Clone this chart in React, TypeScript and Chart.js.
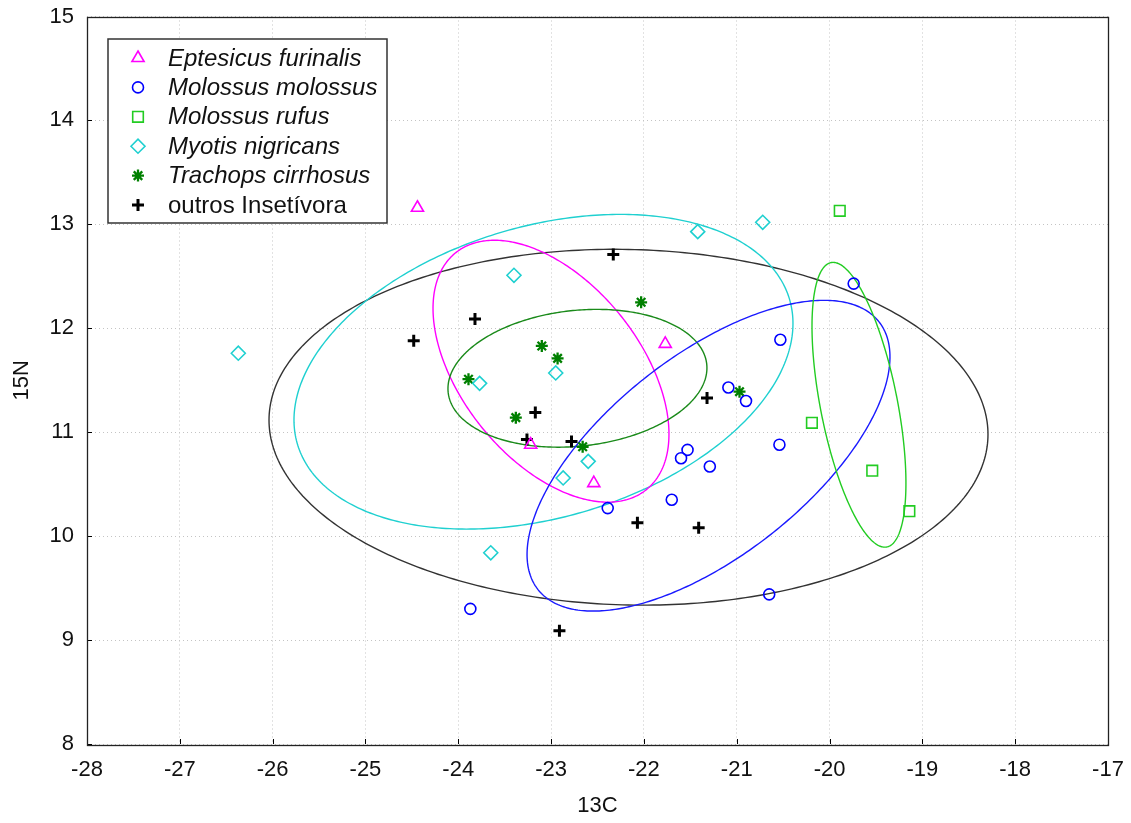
import React, { useEffect, useRef } from 'react';
import { Chart, registerables } from 'chart.js';
import { drawPoint } from 'chart.js/helpers';

Chart.register(...registerables);

// ---------- data ----------
const xTicks = [-28, -27, -26, -25, -24, -23, -22, -21, -20, -19, -18, -17];
const yTicks = [8, 9, 10, 11, 12, 13, 14, 15];

const seriesNames = [
  'Eptesicus furinalis',
  'Molossus molossus',
  'Molossus rufus',
  'Myotis nigricans',
  'Trachops cirrhosus',
  'outros Insetívora',
];

const eptesicusX = [-24.44, -21.77, -23.22, -22.54];
const eptesicusY = [13.16, 11.85, 10.88, 10.51];

const molossusX = [-23.87, -22.39, -21.70, -21.60, -21.53, -21.29, -20.54, -20.65, -21.09, -20.90, -20.53, -19.74];
const molossusY = [9.30, 10.27, 10.35, 10.75, 10.83, 10.67, 10.88, 9.44, 11.43, 11.30, 11.89, 12.43];

const rufusX = [-19.89, -20.19, -19.54, -19.14];
const rufusY = [13.13, 11.09, 10.63, 10.24];

const myotisX = [-26.37, -23.40, -23.77, -22.95, -21.42, -20.72, -22.60, -22.87, -23.65];
const myotisY = [11.76, 12.51, 11.47, 11.57, 12.93, 13.02, 10.72, 10.56, 9.84];

const trachopsX = [-22.03, -23.10, -22.93, -23.89, -23.38, -22.66, -20.97];
const trachopsY = [12.25, 11.83, 11.71, 11.51, 11.14, 10.86, 11.39];

const outrosX = [-24.48, -23.82, -22.33, -23.17, -23.26, -22.78, -21.32, -22.07, -21.41, -22.91];
const outrosY = [11.88, 12.09, 12.71, 11.19, 10.93, 10.91, 11.33, 10.13, 10.08, 9.09];

// ellipses: centre, half extents along x and y, correlation-like tilt
const ellipseCX = [-22.166, -23.082, -23.001, -22.716, -21.304, -19.683];
const ellipseCY = [11.048, 11.582, 11.587, 11.519, 10.774, 11.264];
const ellipseHalfW = [3.873, 2.688, 1.271, 1.395, 1.955, 0.506];
const ellipseHalfH = [1.712, 1.514, 1.260, 0.663, 1.495, 1.370];
const ellipseRho = [-0.04, 0.307, -0.48, 0.15, 0.636, -0.55];

// ---------- styles ----------
const seriesColors = ['#ff00ff', '#0000ff', '#22cc22', '#1fd0d0', '#008000', '#000000'];
const seriesStyles = ['triangle', 'circle', 'rect', 'rectRot', 'star', 'cross'];
const seriesRadius = [7, 5.5, 7.5, 7, 6, 6];
const seriesBorder = [1.6, 1.6, 1.6, 1.6, 2.3, 3];
const italicFlags = [true, true, true, true, true, false];
const ellipseColors = ['#333333', '#1fd0d0', '#ff00ff', '#1a8a1a', '#1a1aff', '#22cc22'];

const FONT = '"Liberation Sans", Arial, sans-serif';

const seriesX = [eptesicusX, molossusX, rufusX, myotisX, trachopsX, outrosX];
const seriesY = [eptesicusY, molossusY, rufusY, myotisY, trachopsY, outrosY];

const framePlugin = {
  id: 'frameTicks',
  afterDraw(chart: any) {
    const { ctx, chartArea: a, scales } = chart;
    ctx.save();
    ctx.strokeStyle = '#000';
    ctx.lineWidth = 1;
    ctx.beginPath();
    xTicks.forEach((v) => {
      const px = Math.round(scales.x.getPixelForValue(v)) + 0.5;
      ctx.moveTo(px, a.bottom);
      ctx.lineTo(px, a.bottom - 5);
    });
    yTicks.forEach((v) => {
      const py = Math.round(scales.y.getPixelForValue(v)) + 0.5;
      ctx.moveTo(a.left, py);
      ctx.lineTo(a.left + 5, py);
    });
    ctx.stroke();
    ctx.lineWidth = 1.3;
    ctx.strokeStyle = '#222';
    ctx.strokeRect(Math.round(a.left) + 0.5, Math.round(a.top) + 0.5, Math.round(a.width), Math.round(a.height));
    ctx.restore();
  },
};

const ellipsePlugin = {
  id: 'ellipses',
  beforeDatasetsDraw(chart: any) {
    const { ctx, chartArea: a, scales } = chart;
    ctx.save();
    ctx.beginPath();
    ctx.rect(a.left, a.top, a.width, a.height);
    ctx.clip();
    ellipseCX.forEach((cx, i) => {
      const cy = ellipseCY[i];
      const hw = ellipseHalfW[i];
      const hh = ellipseHalfH[i];
      const r = ellipseRho[i];
      const s = Math.sqrt(1 - r * r);
      ctx.beginPath();
      const n = 360;
      for (let k = 0; k <= n; k++) {
        const t = (k / n) * Math.PI * 2;
        const dx = cx + hw * Math.cos(t);
        const dy = cy + hh * (r * Math.cos(t) + s * Math.sin(t));
        const px = scales.x.getPixelForValue(dx);
        const py = scales.y.getPixelForValue(dy);
        if (k === 0) ctx.moveTo(px, py);
        else ctx.lineTo(px, py);
      }
      ctx.closePath();
      ctx.strokeStyle = ellipseColors[i];
      ctx.lineWidth = 1.4;
      ctx.stroke();
    });
    ctx.restore();
  },
};

const legendPlugin = {
  id: 'customLegend',
  afterDraw(chart: any) {
    const { ctx, chartArea: a } = chart;
    const left = a.left + 21;
    const top = a.top + 22.5;
    const w = 279;
    const h = 184;
    ctx.save();
    ctx.fillStyle = '#ffffff';
    ctx.fillRect(left, top, w, h);
    ctx.strokeStyle = '#333';
    ctx.lineWidth = 1.5;
    ctx.strokeRect(left, top, w, h);
    seriesNames.forEach((name, i) => {
      const cy = top + 19 + i * 29.4;
      ctx.strokeStyle = seriesColors[i];
      ctx.fillStyle = 'rgba(0,0,0,0)';
      ctx.lineWidth = seriesBorder[i];
      drawPoint(ctx, {
        pointStyle: seriesStyles[i],
        radius: seriesRadius[i],
        borderWidth: seriesBorder[i],
        rotation: 0,
      } as any, left + 30, cy);
      ctx.fillStyle = '#111';
      ctx.textBaseline = 'middle';
      ctx.textAlign = 'left';
      ctx.font = `${italicFlags[i] ? 'italic ' : ''}24px ${FONT}`;
      ctx.fillText(name, left + 60, cy + 1);
    });
    ctx.restore();
  },
};

export default function App() {
  const ref = useRef<HTMLCanvasElement | null>(null);

  useEffect(() => {
    document.body.style.margin = '0';
    const canvas = ref.current;
    if (!canvas) return;
    const datasets = seriesNames.map((name, i) => ({
      label: name,
      data: seriesX[i].map((x, j) => ({ x, y: seriesY[i][j] })),
      pointStyle: seriesStyles[i],
      pointRadius: seriesRadius[i],
      pointBorderWidth: seriesBorder[i],
      borderColor: seriesColors[i],
      backgroundColor: 'rgba(0,0,0,0)',
      pointBackgroundColor: 'rgba(0,0,0,0)',
      showLine: false,
    }));
    const gridCommon = {
      color: '#c4c4c4',
      lineWidth: 1,
      drawTicks: false,
    };
    const chart = new Chart(canvas, {
      type: 'scatter',
      data: { datasets },
      options: {
        responsive: false,
        animation: false,
        events: [],
        layout: { padding: { top: 16.5, right: 23, bottom: 0, left: 0 } },
        plugins: {
          legend: { display: false },
          tooltip: { enabled: false },
        },
        scales: {
          x: {
            type: 'linear',
            min: -28,
            max: -17,
            afterBuildTicks: (scale: any) => {
              scale.ticks = xTicks.map((v) => ({ value: v }));
            },
            afterFit: (scale: any) => {
              scale.height = 79;
              scale.paddingLeft = 0;
              scale.paddingRight = 0;
            },
            ticks: {
              color: '#111',
              font: { family: FONT, size: 22 },
              padding: 13,
              maxRotation: 0,
              autoSkip: false,
            },
            grid: gridCommon,
            border: { display: false, dash: [1, 3] },
            title: {
              display: true,
              text: '13C',
              color: '#111',
              font: { family: FONT, size: 22 },
              padding: { top: 0, bottom: 4 },
            },
          },
          y: {
            type: 'linear',
            min: 8,
            max: 15,
            afterBuildTicks: (scale: any) => {
              scale.ticks = yTicks.map((v) => ({ value: v }));
            },
            afterFit: (scale: any) => {
              scale.width = 87;
              scale.paddingTop = 0;
              scale.paddingBottom = 0;
            },
            ticks: {
              color: '#111',
              font: { family: FONT, size: 22 },
              padding: 13,
              autoSkip: false,
            },
            grid: gridCommon,
            border: { display: false, dash: [1, 3] },
            title: {
              display: true,
              text: '15N',
              color: '#111',
              font: { family: FONT, size: 22 },
              padding: { top: 9, bottom: 0 },
            },
          },
        },
      },
      plugins: [ellipsePlugin, framePlugin, legendPlugin],
    } as any);
    return () => chart.destroy();
  }, []);

  return (
    <div style={{ position: 'absolute', left: 0, top: 0, width: 1131, height: 823 }}>
      <canvas ref={ref} width={1131} height={823} />
    </div>
  );
}
